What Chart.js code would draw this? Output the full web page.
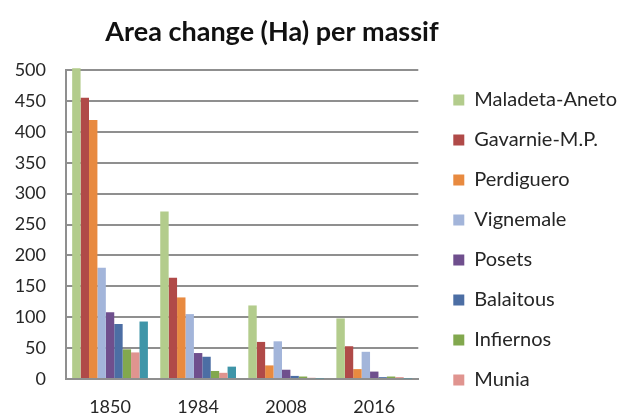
<!DOCTYPE html>
<html>
<head>
<meta charset="utf-8">
<script src="https://cdn.jsdelivr.net/npm/chart.js@4.4.1/dist/chart.umd.min.js"></script>
<style>
  html, body { margin: 0; padding: 0; background: #fff; }
  #wrap { width: 627px; height: 420px; }
</style>
</head>
<body>
<div id="wrap"><canvas id="chart" width="627" height="420"></canvas></div>
<script>
/* ============================
   Datos
============================ */
const TITLE = "Area change (Ha) per massif";
const years = ["1850", "1984", "2008", "2016"];

const maladetaAneto = [503, 271, 119, 98];
const gavarnieMP    = [455, 164, 60, 53];
const perdiguero    = [419, 132, 22, 16];
const vignemale     = [180, 105, 61, 44];
const posets        = [108, 42, 15, 12];
const balaitous     = [89, 36, 5, 3];
const infiernos     = [48, 13, 4, 4];
const munia         = [43, 10, 2, 3];
const otros         = [93, 20, 1, 1];   // serie sin entrada en la leyenda

const yTicks = [0, 50, 100, 150, 200, 250, 300, 350, 400, 450, 500];

/* ============================
   Estilo
============================ */
const FONT = "Lato, 'Open Sans', sans-serif";
const TEXT = "#262626";
const GRID = "#8f8f8f";

const series = [
    ["Maladeta-Aneto", maladetaAneto, "#b3cc8c"],
    ["Gavarnie-M.P.", gavarnieMP, "#b04a48"],
    ["Perdiguero", perdiguero, "#e88a40"],
    ["Vignemale", vignemale, "#a3b5da"],
    ["Posets", posets, "#6f4f8d"],
    ["Balaitous", balaitous, "#4c6ea4"],
    ["Infiernos", infiernos, "#82a84e"],
    ["Munia", munia, "#e0948f"],
    ["Otros", otros, "#3f95a8"],
];

// título centrado sobre el gráfico
const titlePlugin = {
    id: "massifTitle",
    afterDraw(chart) {
        const { ctx } = chart;
        ctx.save();
        ctx.font = `bold 27px ${FONT}`;
        ctx.fillStyle = "#111";
        ctx.textAlign = "center";
        ctx.textBaseline = "alphabetic";
        ctx.fillText(TITLE, 272, 41);
        ctx.restore();
    }
};

new Chart(document.getElementById("chart").getContext("2d"), {
    type: "bar",
    data: {
        labels: years,
        datasets: series.map(([label, data, color]) => ({
            label,
            data,
            backgroundColor: color,
            borderWidth: 0,
            clip: false,
            categoryPercentage: 0.86,
            barPercentage: 1.0
        }))
    },
    options: {
        responsive: false,
        animation: false,
        layout: { padding: { top: 70, left: 15, right: 0, bottom: 2 } },
        plugins: {
            title: { display: false },
            tooltip: { enabled: false },
            legend: {
                position: "right",
                align: "start",
                maxWidth: 220,
                labels: {
                    filter: (item) => item.text !== "Otros",
                    boxWidth: 11,
                    boxHeight: 11,
                    padding: 20,
                    color: TEXT,
                    font: { family: FONT, size: 20 }
                }
            }
        },
        scales: {
            x: {
                grid: { display: false, drawTicks: false },
                border: { display: true, color: GRID, width: 2 },
                ticks: { color: TEXT, padding: 17, font: { family: FONT, size: 18 } },
                afterFit: (s) => { s.height = 39; }
            },
            y: {
                min: 0,
                max: 500,
                afterBuildTicks: (s) => { s.ticks = yTicks.map((v) => ({ value: v })); },
                grid: { color: GRID, lineWidth: 2, drawTicks: false },
                border: { display: true, color: GRID, width: 2 },
                ticks: { color: TEXT, padding: 20, font: { family: FONT, size: 18 } },
                afterFit: (s) => { s.width = 51; }
            },
            // eje vacío: separa el área de barras de la leyenda
            gap: {
                position: "right",
                display: true,
                grid: { display: false, drawTicks: false },
                border: { display: false },
                ticks: { display: false },
                afterFit: (s) => { s.width = 15; }
            }
        }
    },
    plugins: [titlePlugin]
});
</script>
</body>
</html>
